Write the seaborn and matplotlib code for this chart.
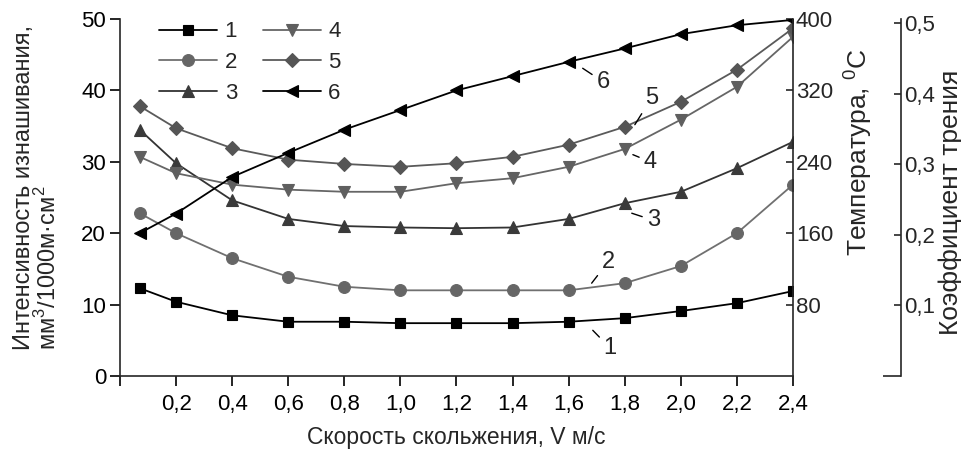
import numpy as np
import pandas as pd
import matplotlib
matplotlib.use("Agg")
import matplotlib.pyplot as plt
import seaborn as sns

# ---- data ----
speed = [0.07, 0.2, 0.4, 0.6, 0.8, 1.0, 1.2, 1.4, 1.6, 1.8, 2.0, 2.2, 2.4]
wear_1 = [12.3, 10.4, 8.5, 7.6, 7.6, 7.4, 7.4, 7.4, 7.6, 8.1, 9.1, 10.2, 11.9]
wear_2 = [22.8, 20.0, 16.5, 13.9, 12.5, 12.0, 12.0, 12.0, 12.0, 13.0, 15.4, 20.0, 26.8]
wear_3 = [34.5, 29.8, 24.6, 22.0, 21.0, 20.8, 20.7, 20.8, 22.0, 24.2, 25.8, 29.1, 32.8]
wear_4 = [30.7, 28.4, 26.8, 26.1, 25.8, 25.8, 27.0, 27.7, 29.3, 31.8, 35.9, 40.5, 47.5]
wear_5 = [37.8, 34.7, 31.9, 30.3, 29.7, 29.3, 29.8, 30.7, 32.4, 34.9, 38.4, 42.9, 48.7]
temp_6 = [160, 182, 223, 250, 276, 298, 320, 336, 352, 367, 383, 393, 399]

series_labels = ["1", "2", "3", "4", "5", "6"]
x_ticks = [0.0, 0.2, 0.4, 0.6, 0.8, 1.0, 1.2, 1.4, 1.6, 1.8, 2.0, 2.2, 2.4]
x_tick_labels = ["", "0,2", "0,4", "0,6", "0,8", "1,0", "1,2", "1,4", "1,6", "1,8", "2,0", "2,2", "2,4"]
wear_ticks = [0, 10, 20, 30, 40, 50]
temp_ticks = [80, 160, 240, 320, 400]
fric_ticks = [0.1, 0.2, 0.3, 0.4, 0.5]
fric_tick_labels = ["0,1", "0,2", "0,3", "0,4", "0,5"]

# label placement (curve point, text point) in data coords of wear axis
label_xy = {"1": (1.686, 6.4), "2": (1.682, 13.0), "3": (1.825, 22.8),
            "4": (1.829, 31.0), "5": (1.836, 35.2), "6": (1.650, 43.1)}
label_text = {"1": (1.748, 3.9), "2": (1.741, 16.0), "3": (1.902, 21.8),
              "4": (1.891, 30.0), "5": (1.895, 38.9), "6": (1.723, 41.2)}

sns.set_theme(style="ticks")
plt.rcParams["font.family"] = ["Liberation Sans", "DejaVu Sans"]
plt.rcParams["axes.linewidth"] = 1.2
plt.rcParams["mathtext.fontset"] = "custom"
plt.rcParams["mathtext.rm"] = "Liberation Sans"

fig = plt.figure(figsize=(9.62, 4.53), dpi=100)
ax = fig.add_axes([120 / 962, 1 - 376 / 453, 673 / 962, 357 / 453])
ax2 = ax.twinx()
ax3 = ax.twinx()

styles = [
    (wear_1, "s", "#000000", "#000000", 7.5, ax),
    (wear_2, "o", "#666666", "#707070", 8.5, ax),
    (wear_3, "^", "#3a3a3a", "#333333", 9, ax),
    (wear_4, "v", "#5f5f5f", "#666666", 9, ax),
    (wear_5, "D", "#555555", "#5a5a5a", 7, ax),
]
handles = []
for (vals, mk, mc, lc, ms, a), lab in zip(styles, series_labels[:5]):
    sns.lineplot(x=speed, y=vals, ax=a, color=lc, marker=mk, markersize=ms,
                 markerfacecolor=mc, markeredgecolor=mc, markeredgewidth=0.8,
                 linewidth=1.3, label=lab, legend=False)
    handles.append(a.lines[-1])
sns.lineplot(x=speed, y=temp_6, ax=ax2, color="#000000", marker="<", markersize=9,
             markerfacecolor="#000000", markeredgecolor="#000000", markeredgewidth=0.8,
             linewidth=1.3, label="6", legend=False)
handles.append(ax2.lines[-1])

ax.set_xlim(0, 2.4)
ax.set_ylim(0, 50)
ax2.set_ylim(0, 400)
ax3.set_ylim(0, 0.5056)

ax.set_xticks(x_ticks)
ax.set_xticklabels(x_tick_labels)
ax.set_yticks(wear_ticks)
ax.set_yticklabels([str(t) for t in wear_ticks])
ax.tick_params(axis="both", direction="out", length=7, width=1.2, labelsize=16,
               colors="#000000", pad=3)
ax.tick_params(axis="x", pad=6)

ax2.set_yticks(temp_ticks)
ax2.set_yticklabels([str(t) for t in temp_ticks])
ax2.tick_params(axis="y", direction="in", length=5, width=1.2, labelsize=16, pad=2)

ax3.set_yticks(fric_ticks)
ax3.set_yticklabels(fric_tick_labels)
ax3.set_yticks([0.0], minor=True)
ax3.tick_params(axis="y", which="major", direction="in", length=5, width=1.2,
                labelsize=16, pad=2)
ax3.tick_params(axis="y", which="minor", direction="in", length=13, width=1.2,
                labelright=False)
ax3.spines["right"].set_position(("axes", (901 - 120) / 673))

for a in (ax, ax2, ax3):
    a.spines["top"].set_visible(False)
    a.grid(False)
for a in (ax2, ax3):
    a.spines["left"].set_visible(False)
    a.spines["bottom"].set_visible(False)
ax.spines["right"].set_visible(False)
for sp in ("left", "bottom"):
    ax.spines[sp].set_linewidth(1.2)
ax2.spines["right"].set_linewidth(1.2)
ax3.spines["right"].set_linewidth(1.2)

ax.set_xlabel("Скорость скольжения, V м/с", fontsize=16.5, labelpad=8)
ax.set_ylabel("")
fig.text(37 / 962, 1 - 187 / 453, "Интенсивность изнашивания,\nмм$^3$/1000м·см$^2$",
         rotation=90, ha="center", va="center", multialignment="left", fontsize=17,
         linespacing=1.0)
ax2.text((858 - 120) / 673, (376 - 152) / 357, "Температура, $^0$C", transform=ax.transAxes,
         rotation=90, ha="center", va="center", fontsize=19)
ax3.text((951 - 120) / 673, (376 - 202) / 357, "Коэффициент трения", transform=ax.transAxes,
         rotation=90, ha="center", va="center", fontsize=19)

for lab in series_labels:
    ax.annotate(lab, xy=label_xy[lab], xytext=label_text[lab], textcoords="data",
                ha="center", va="center", fontsize=17,
                arrowprops=dict(arrowstyle="-", color="#000000", lw=1.0,
                                shrinkA=1, shrinkB=0))

leg = ax.legend(handles=handles, labels=series_labels, ncol=2, loc="upper left",
                bbox_to_anchor=(0.045, 1.018), frameon=False, fontsize=16,
                handlelength=2.6, handletextpad=0.35, columnspacing=1.15,
                labelspacing=0.43, borderaxespad=0)

fig.savefig("out.png", dpi=100)
